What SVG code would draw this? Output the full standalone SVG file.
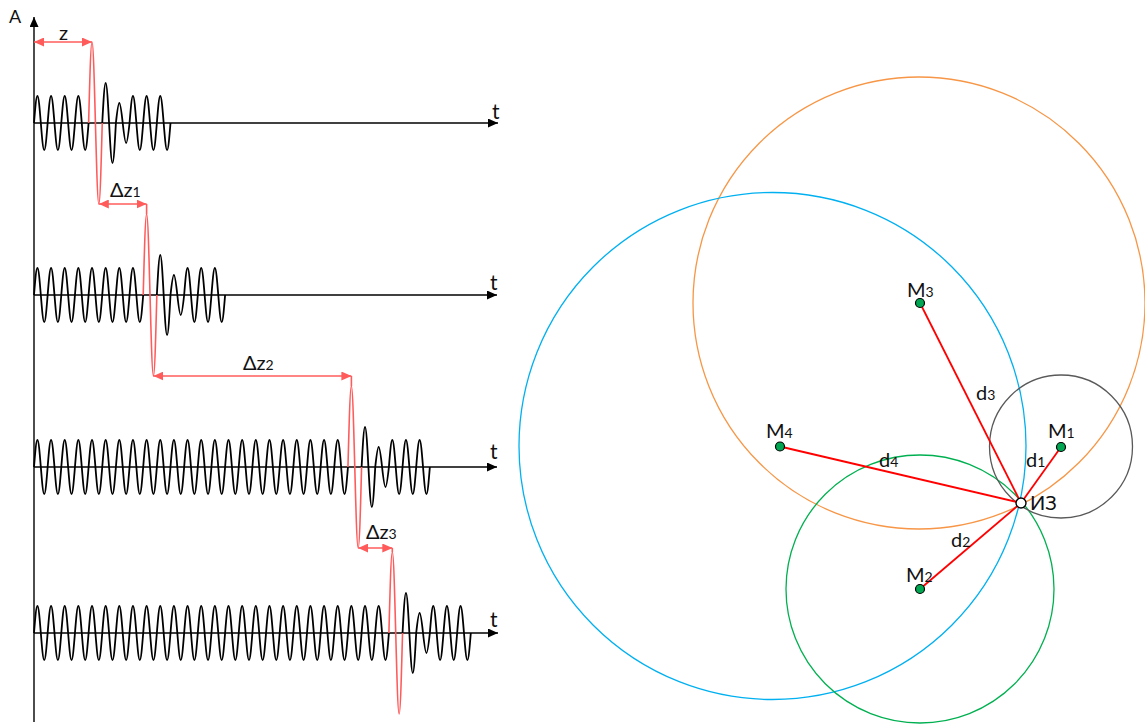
<svg xmlns="http://www.w3.org/2000/svg" xmlns:xlink="http://www.w3.org/1999/xlink" width="1145" height="724" viewBox="0 0 1145 724">
<style>
.ax{stroke:#000;stroke-width:1.4;fill:none}
.wv{stroke:#000;stroke-width:1.8;fill:none}
.pl{stroke:#FF5B5B;stroke-width:1.6;fill:none}
.ra{stroke:#FF5B5B;stroke-width:1.6;fill:none;marker-start:url(#rh);marker-end:url(#rh)}
.lb{font-family:Lato,"Liberation Sans",sans-serif;font-size:20px;fill:#111}
.sb{font-size:14px}
.tt{font-size:21px}
.cir{fill:none;stroke-width:1.3}
.dl{stroke:#FF0000;stroke-width:1.8}
.dot{fill:#00A651;stroke:#000;stroke-width:1.2}
</style>
<defs>
<marker id="rh" viewBox="0 0 10 10" refX="10" refY="5" markerWidth="10" markerHeight="9" markerUnits="userSpaceOnUse" orient="auto-start-reverse" preserveAspectRatio="none"><path d="M0,0 L10,5 L0,10 z" fill="#FF5B5B"/></marker>
<marker id="bh" viewBox="0 0 10 10" refX="10" refY="5" markerWidth="10" markerHeight="9" markerUnits="userSpaceOnUse" orient="auto" preserveAspectRatio="none"><path d="M0,0 L10,5 L0,10 z" fill="#000"/></marker>
<path id="w" class="wv" d="M0,0 c1.113,-13.83 2.1775,-27 3.4125,-27 s2.2995,13.17 3.4125,27 s2.1775,27 3.4125,27 s2.2995,-13.17 3.4125,-27"/>
<g id="w2"><use xlink:href="#w"/><use xlink:href="#w" x="13.65"/></g>
<g id="w4"><use xlink:href="#w2"/><use xlink:href="#w2" x="27.3"/></g>
<g id="w8"><use xlink:href="#w4"/><use xlink:href="#w4" x="54.6"/></g>
<path id="tl" class="wv" d="M0,0 c1.113,-20.49 2.1775,-40 3.4125,-40 s2.2995,19.51 3.4125,40 s2.1775,40 3.4125,40 s2.2995,-19.51 3.4125,-40 c1.113,-10.25 2.1775,-20 3.4125,-20 s2.2995,9.75 3.4125,20 s2.1775,20 3.4125,20 s2.2995,-9.75 3.4125,-20 c1.113,-13.83 2.1775,-27 3.4125,-27 s2.2995,13.17 3.4125,27 s2.1775,27 3.4125,27 s2.2995,-13.17 3.4125,-27 s2.1775,-27 3.4125,-27 s2.2995,13.17 3.4125,27 s2.1775,27 3.4125,27 s2.2995,-13.17 3.4125,-27 s2.1775,-27 3.4125,-27 s2.2995,13.17 3.4125,27 s2.1775,27 3.4125,27 s2.2995,-13.17 3.4125,-27"/>
<path id="pu" class="pl" d="M0,0 c1.113,-41.5 2.1775,-81 3.4125,-81 s2.2995,39.5 3.4125,81 s2.1775,81 3.4125,81 s2.2995,-39.5 3.4125,-81"/>
</defs>
<rect width="1145" height="724" fill="#fff"/>

<g id="axes">
<line class="ax" x1="34" y1="722" x2="34" y2="17" marker-end="url(#bh)"/>
<line class="ax" x1="34" y1="123" x2="498" y2="123" marker-end="url(#bh)"/>
<line class="ax" x1="34" y1="295" x2="497" y2="295" marker-end="url(#bh)"/>
<line class="ax" x1="34" y1="467" x2="497" y2="467" marker-end="url(#bh)"/>
<line class="ax" x1="34" y1="633" x2="498" y2="633" marker-end="url(#bh)"/>
</g>

<g id="row1">
<use xlink:href="#w4" x="34" y="123"/>
<use xlink:href="#tl" x="102.25" y="123"/>
</g>
<g id="row2">
<use xlink:href="#w8" x="34" y="295"/>
<use xlink:href="#tl" x="156.85" y="295"/>
</g>
<g id="row3">
<use xlink:href="#w8" x="34" y="467"/>
<use xlink:href="#w8" x="143.2" y="467"/>
<use xlink:href="#w4" x="252.4" y="467"/>
<use xlink:href="#w2" x="307" y="467"/>
<use xlink:href="#w" x="334.3" y="467"/>
<use xlink:href="#tl" x="361.6" y="467"/>
</g>
<g id="row4">
<use xlink:href="#w8" x="34" y="633"/>
<use xlink:href="#w8" x="143.2" y="633"/>
<use xlink:href="#w8" x="252.4" y="633"/>
<use xlink:href="#w2" x="361.6" y="633"/>
<use xlink:href="#tl" x="402.55" y="633"/>
</g>

<g id="pulses">
<use xlink:href="#pu" x="88.6" y="123"/>
<use xlink:href="#pu" x="143.2" y="295"/>
<use xlink:href="#pu" x="347.95" y="467"/>
<use xlink:href="#pu" x="388.9" y="633"/>
</g>

<g id="connectors">
<line class="ra" x1="34" y1="42" x2="92" y2="42"/>
<line class="ra" x1="98.8" y1="204" x2="146.6" y2="204"/>
<line class="pl" x1="146.6" y1="204" x2="146.6" y2="214"/>
<line class="ra" x1="153.4" y1="376" x2="351.4" y2="376"/>
<line class="pl" x1="351.4" y1="376" x2="351.4" y2="386"/>
<line class="ra" x1="358.2" y1="548" x2="392.3" y2="548"/>
<line class="pl" x1="392.3" y1="548" x2="392.3" y2="552"/>
</g>

<g id="left-labels">
<text class="lb" x="9" y="23" style="font-size:18px">A</text>
<text class="lb" x="59" y="40">z</text>
<text class="lb" x="110" y="197">Δz<tspan class="sb">1</tspan></text>
<text class="lb" x="243" y="370">Δz<tspan class="sb">2</tspan></text>
<text class="lb" x="366" y="539">Δz<tspan class="sb">3</tspan></text>
<text class="lb tt" x="492" y="119">t</text>
<text class="lb tt" x="490" y="290">t</text>
<text class="lb tt" x="490" y="459">t</text>
<text class="lb tt" x="490" y="627">t</text>
</g>

<g id="circles">
<circle class="cir" cx="919" cy="303" r="226" stroke="#F79646"/>
<circle class="cir" cx="772.5" cy="446" r="253.5" stroke="#00B0F0"/>
<circle class="cir" cx="920" cy="589" r="134" stroke="#00B050"/>
<circle class="cir" cx="1061" cy="446.5" r="71.5" stroke="#595959"/>
</g>

<g id="distances">
<line class="dl" x1="1061" y1="447" x2="1021" y2="503"/>
<line class="dl" x1="920" y1="589" x2="1021" y2="503"/>
<line class="dl" x1="920" y1="303" x2="1021" y2="503"/>
<line class="dl" x1="780" y1="446.5" x2="1021" y2="503"/>
</g>

<g id="M1"><circle class="dot" cx="1061" cy="447" r="4.5"/><text class="lb" x="1048" y="438">М<tspan class="sb">1</tspan></text></g>
<g id="M2"><circle class="dot" cx="920" cy="589" r="4.5"/><text class="lb" x="906" y="582">М<tspan class="sb">2</tspan></text></g>
<g id="M3"><circle class="dot" cx="920" cy="303" r="4.5"/><text class="lb" x="907" y="297">М<tspan class="sb">3</tspan></text></g>
<g id="M4"><circle class="dot" cx="780" cy="446.5" r="4.5"/><text class="lb" x="766" y="438">М<tspan class="sb">4</tspan></text></g>
<g id="IZ"><circle cx="1021" cy="503" r="5" fill="#fff" stroke="#000" stroke-width="1.4"/><text class="lb" x="1030" y="510" style="font-size:20px">ИЗ</text></g>

<g id="d-labels">
<text class="lb" x="976" y="400">d<tspan class="sb">3</tspan></text>
<text class="lb" x="1026" y="467">d<tspan class="sb">1</tspan></text>
<text class="lb" x="879" y="467">d<tspan class="sb">4</tspan></text>
<text class="lb" x="951" y="547">d<tspan class="sb">2</tspan></text>
</g>
</svg>
